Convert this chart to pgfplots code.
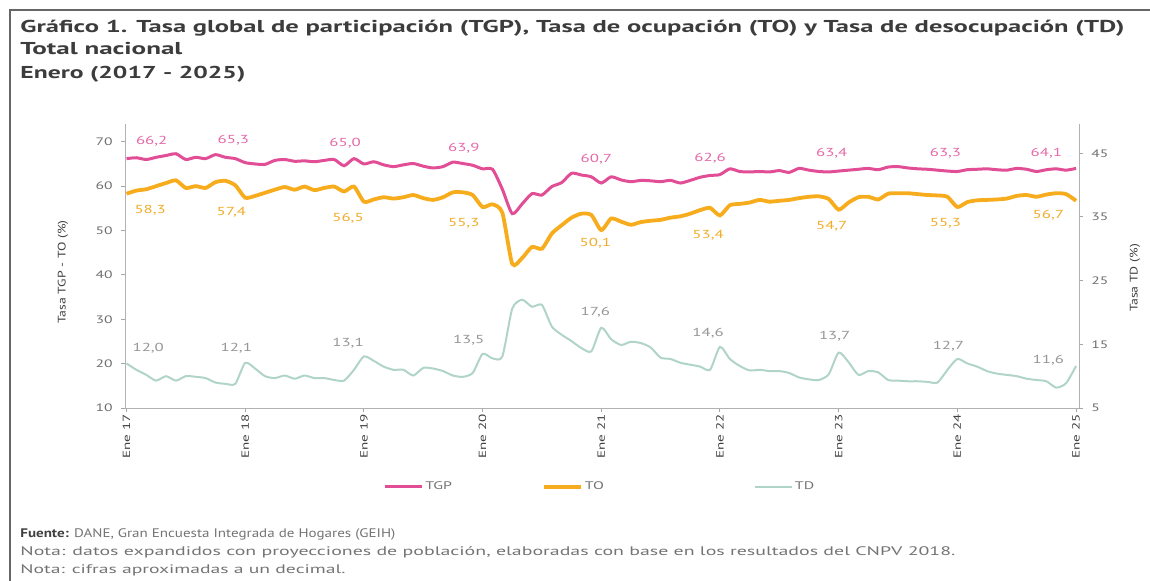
\documentclass[border=0pt]{standalone}
\usepackage{fontspec}
\setmainfont{PT Sans}
\usepackage{graphicx}
\usepackage{pgfplots}
\usepackage{pgfplotstable}
\pgfplotsset{compat=1.18}
\definecolor{tgpc}{RGB}{226,78,150}
\definecolor{toc}{RGB}{247,172,30}
\definecolor{tdc}{RGB}{176,212,198}
\definecolor{tgpl}{RGB}{228,105,168}
\definecolor{tol}{RGB}{240,172,40}
\definecolor{tdl}{RGB}{150,150,150}
\definecolor{ttl}{RGB}{60,60,60}
\definecolor{tick}{RGB}{110,110,110}
\newcommand{\sx}[1]{\scalebox{1.45}[1]{#1}}
\pgfplotstableread{
m tgp to td
0 66.2 58.3 12.0
1 66.4 59.0 11.0
2 66.0 59.3 10.2
3 66.5 60.0 9.3
4 66.9 60.7 10.0
5 67.3 61.3 9.3
6 66.0 59.6 10.0
7 66.5 60.0 9.9
8 66.2 59.6 9.7
9 67.1 60.9 9.0
10 66.5 61.2 8.8
11 66.2 60.2 8.8
12 65.3 57.4 12.1
13 65.0 57.8 11.2
14 64.9 58.5 10.0
15 65.8 59.2 9.7
16 66.0 59.8 10.1
17 65.6 59.2 9.6
18 65.7 59.9 10.1
19 65.5 59.1 9.7
20 65.8 59.6 9.7
21 66.0 59.9 9.4
22 64.6 58.8 9.3
23 66.2 59.9 11.0
24 65.0 56.5 13.1
25 65.5 57.0 12.4
26 64.8 57.5 11.5
27 64.4 57.2 11.0
28 64.8 57.5 11.0
29 65.1 58.0 10.1
30 64.5 57.3 11.3
31 64.1 56.9 11.2
32 64.4 57.5 10.8
33 65.4 58.6 10.1
34 65.1 58.6 9.9
35 64.7 58.0 10.5
36 63.9 55.3 13.5
37 63.8 55.9 12.8
38 59.3 54.0 13.1
39 53.8 42.5 20.6
40 56.0 43.8 22.0
41 58.3 46.3 20.9
42 58.0 45.9 21.2
43 59.9 49.3 17.8
44 60.8 51.2 16.5
45 62.9 52.9 15.5
46 62.5 53.8 14.4
47 62.1 53.5 13.9
48 60.7 50.1 17.6
49 62.1 52.7 15.8
50 61.4 52.0 14.9
51 61.0 51.3 15.4
52 61.3 51.9 15.2
53 61.2 52.2 14.5
54 61.0 52.4 12.9
55 61.3 52.9 12.7
56 60.7 53.2 12.1
57 61.3 53.8 11.8
58 62.0 54.6 11.5
59 62.4 55.1 11.0
60 62.6 53.4 14.6
61 63.9 55.7 12.7
62 63.3 56.0 11.6
63 63.2 56.3 10.9
64 63.3 56.9 11.0
65 63.2 56.5 10.8
66 63.5 56.7 10.8
67 63.1 56.9 10.5
68 64.0 57.3 9.8
69 63.6 57.6 9.5
70 63.3 57.7 9.4
71 63.2 57.1 10.3
72 63.4 54.7 13.7
73 63.6 56.3 12.2
74 63.8 57.5 10.2
75 64.0 57.6 10.8
76 63.7 57.0 10.6
77 64.3 58.3 9.4
78 64.4 58.4 9.3
79 64.1 58.4 9.2
80 63.9 58.2 9.2
81 63.8 58.0 9.1
82 63.6 57.9 9.0
83 63.4 57.6 11.0
84 63.3 55.3 12.7
85 63.7 56.4 12.0
86 63.8 56.8 11.5
87 63.9 56.9 10.8
88 63.7 57.0 10.4
89 63.6 57.2 10.2
90 64.0 57.8 10.0
91 63.8 58.0 9.6
92 63.3 57.6 9.4
93 63.7 58.1 9.2
94 63.9 58.4 8.2
95 63.6 58.2 8.9
96 64.0 56.7 11.6
}\data
\begin{document}
\begin{tikzpicture}
\useasboundingbox (0,0) rectangle (575pt,290pt);
\draw[line width=0.8pt, black!60] (5pt,-5pt) -- (5pt,285pt) -- (580pt,285pt);
% titles
\node[anchor=base west, inner sep=0pt, text=ttl] at (10pt,{(580-32)*0.5pt}) {\resizebox{552pt}{\height}{\fontsize{8.6pt}{10pt}\selectfont\bfseries Gráfico 1. Tasa global de participación (TGP), Tasa de ocupación (TO) y Tasa de desocupación (TD)}};
\node[anchor=base west, inner sep=0pt, text=ttl] at (10pt,{(580-55)*0.5pt}) {\resizebox{81pt}{\height}{\fontsize{8.6pt}{10pt}\selectfont\bfseries Total nacional}};
\node[anchor=base west, inner sep=0pt, text=ttl] at (10pt,{(580-78)*0.5pt}) {\resizebox{112.5pt}{\height}{\fontsize{8.6pt}{10pt}\selectfont\bfseries Enero (2017 - 2025)}};
% footer
\node[anchor=base west, inner sep=0pt, text=black!55] at (10pt,{(580-537)*0.5pt}) {\resizebox{187.5pt}{\height}{\fontsize{6.2pt}{7pt}\selectfont\textcolor{black!75}{\bfseries Fuente:} DANE, Gran Encuesta Integrada de Hogares (GEIH)}};
\node[anchor=base west, inner sep=0pt, text=black!55] at (10pt,{(580-555)*0.5pt}) {\resizebox{467.5pt}{\height}{\fontsize{6.2pt}{7pt}\selectfont Nota: datos expandidos con proyecciones de población, elaboradas con base en los resultados del CNPV 2018.}};
\node[anchor=base west, inner sep=0pt, text=black!55] at (10pt,{(580-573)*0.5pt}) {\resizebox{162.5pt}{\height}{\fontsize{6.2pt}{7pt}\selectfont Nota: cifras aproximadas a un decimal.}};
% axis titles
\node[rotate=90, text=black!75, inner sep=0pt] at (31.5pt,{(580-272)*0.5pt}) {\fontsize{5.5pt}{7pt}\selectfont\scalebox{1.25}[1]{Tasa TGP - TO (\%)}};
\node[rotate=90, text=black!75, inner sep=0pt] at (567.5pt,{(580-278)*0.5pt}) {\fontsize{5.5pt}{7pt}\selectfont\scalebox{1.25}[1]{Tasa TD (\%)}};

\begin{axis}[
  at={(62.5pt,86pt)}, anchor=south west,
  scale only axis, width=477pt, height=142pt,
  xmin=-0.15, xmax=96.3, ymin=10, ymax=74,
  axis y line*=left, axis x line*=bottom,
  axis line style={black!30, line width=0.5pt},
  tick style={black!35, line width=0.5pt},
  tick align=outside, major tick length=2pt,
  xtick={0,12,...,96},
  xticklabels={\sx{Ene 17},\sx{Ene 18},\sx{Ene 19},\sx{Ene 20},\sx{Ene 21},\sx{Ene 22},\sx{Ene 23},\sx{Ene 24},\sx{Ene 25}},
  xticklabel style={rotate=90, anchor=east, font=\fontsize{5.2pt}{6pt}\selectfont, text=black!75, inner sep=1pt},
  ytick={10,20,...,70},
  yticklabel={\sx{\pgfmathprintnumber{\tick}}},
  yticklabel style={font=\fontsize{5.4pt}{6pt}\selectfont, text=tick, /pgf/number format/assume math mode=true, inner sep=1pt, xshift=-3pt},
  clip=false,
]
\addplot[tgpc, line width=1.5pt, smooth, tension=0.4] table[x=m,y=tgp] {\data};
\addplot[toc, line width=1.9pt, smooth, tension=0.4] table[x=m,y=to] {\data};
\begin{scope}[every node/.style={font=\fontsize{5.8pt}{7pt}\selectfont, inner sep=0pt}]
\node[text=tgpl] at (axis cs:2.55,70.2) {\sx{66,2}};
\node[text=tgpl] at (axis cs:10.8,70.3) {\sx{65,3}};
\node[text=tgpl] at (axis cs:22.1,69.6) {\sx{65,0}};
\node[text=tgpl] at (axis cs:34.1,68.5) {\sx{63,9}};
\node[text=tgpl] at (axis cs:47.5,66.0) {\sx{60,7}};
\node[text=tgpl] at (axis cs:59.0,66.25) {\sx{62,6}};
\node[text=tgpl] at (axis cs:71.3,67.4) {\sx{63,4}};
\node[text=tgpl] at (axis cs:82.8,67.4) {\sx{63,3}};
\node[text=tgpl] at (axis cs:93.0,67.4) {\sx{64,1}};
\node[text=tol] at (axis cs:2.4,54.6) {\sx{58,3}};
\node[text=tol] at (axis cs:10.6,54.2) {\sx{57,4}};
\node[text=tol] at (axis cs:22.4,52.7) {\sx{56,5}};
\node[text=tol] at (axis cs:34.1,51.6) {\sx{55,3}};
\node[text=tol] at (axis cs:47.4,47.1) {\sx{50,1}};
\node[text=tol] at (axis cs:58.8,49.0) {\sx{53,4}};
\node[text=tol] at (axis cs:71.3,51.0) {\sx{54,7}};
\node[text=tol] at (axis cs:82.8,51.7) {\sx{55,3}};
\node[text=tol] at (axis cs:93.2,53.5) {\sx{56,7}};
\end{scope}
\end{axis}

\begin{axis}[
  at={(62.5pt,86pt)}, anchor=south west,
  scale only axis, width=477pt, height=142pt,
  xmin=-0.15, xmax=96.3, ymin=5, ymax=49.6,
  axis y line*=right, axis x line=none,
  axis line style={black!30, line width=0.5pt},
  tick style={black!35, line width=0.5pt},
  tick align=outside, major tick length=2pt,
  ytick={5,15,...,45},
  yticklabel={\sx{\pgfmathprintnumber{\tick}}},
  yticklabel style={font=\fontsize{5.4pt}{6pt}\selectfont, text=tick, /pgf/number format/assume math mode=true, inner sep=1pt, xshift=3pt},
  clip=false,
  legend columns=3,
  legend style={at={(axis description cs:0.2704,-0.278)}, anchor=west, draw=none, fill=none, inner sep=0pt,
    font=\fontsize{5.5pt}{7pt}\selectfont, text=black!55,
    nodes={inner sep=1pt},
    /tikz/column 2/.style={column sep=44pt},
    /tikz/column 4/.style={column sep=74pt}},
  legend image code/.code={\draw[#1] (0pt,0pt) -- (18.5pt,0pt);},
]
\addlegendimage{tgpc, line width=1.5pt}
\addlegendentry{\sx{TGP}}
\addlegendimage{toc, line width=1.9pt}
\addlegendentry{\sx{TO}}
\addplot[tdc, line width=1pt, smooth, tension=0.4] table[x=m,y=td] {\data};
\addlegendentry{\sx{TD}}
\begin{scope}[every node/.style={font=\fontsize{5.8pt}{7pt}\selectfont, inner sep=0pt, text=tdl}]
\node at (axis cs:2.2,14.4) {\sx{12,0}};
\node at (axis cs:11.1,14.4) {\sx{12,1}};
\node at (axis cs:22.4,15.2) {\sx{13,1}};
\node at (axis cs:34.6,15.7) {\sx{13,5}};
\node at (axis cs:47.4,20.0) {\sx{17,6}};
\node at (axis cs:58.8,16.8) {\sx{14,6}};
\node at (axis cs:71.6,16.2) {\sx{13,7}};
\node at (axis cs:83.1,14.7) {\sx{12,7}};
\node at (axis cs:93.2,12.5) {\sx{11,6}};
\end{scope}
\end{axis}
\end{tikzpicture}
\end{document}
